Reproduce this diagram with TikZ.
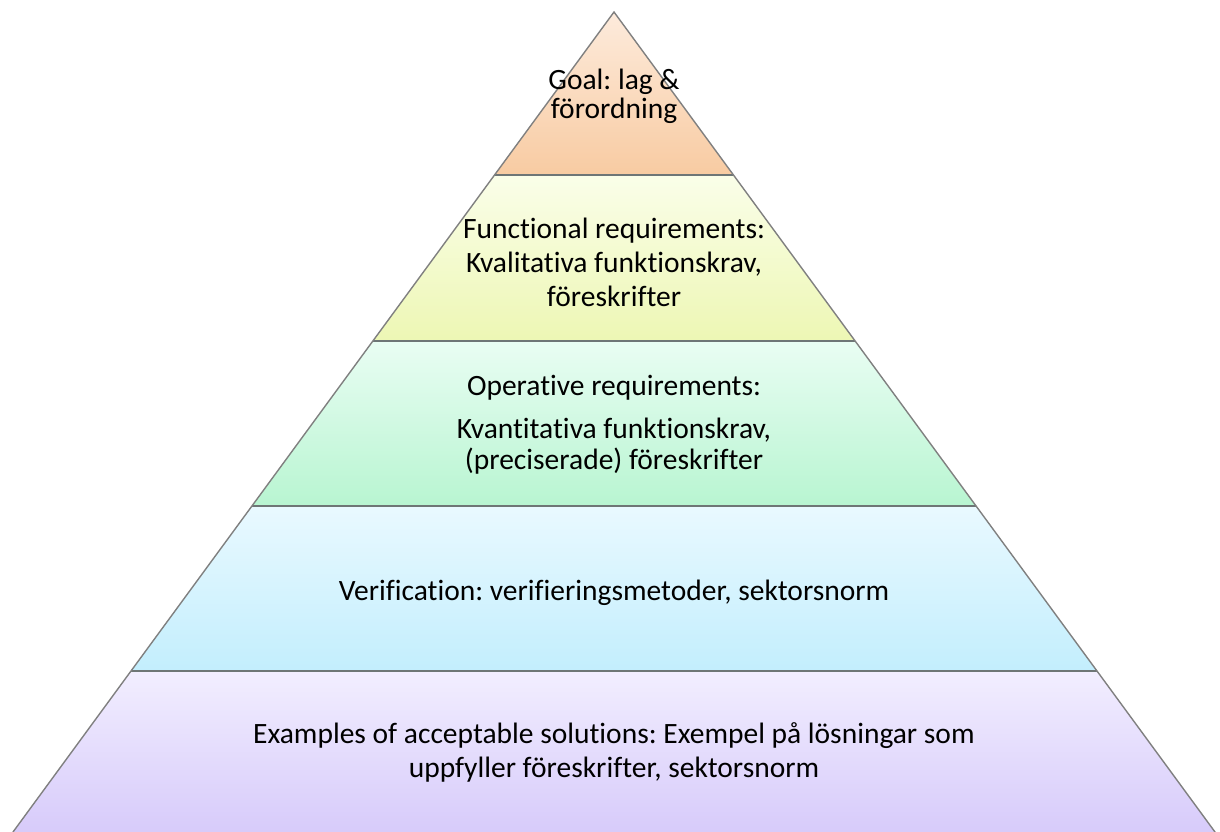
\documentclass[tikz,border=0pt]{standalone}
\usepackage{fontspec}
\setmainfont{Carlito}[Ligatures={NoCommon}]
\frenchspacing
\definecolor{edgegrey}{HTML}{808080}
\definecolor{sepgrey}{HTML}{6E7676}
\definecolor{orangeT}{HTML}{FDEBDC}
\definecolor{orangeB}{HTML}{F8CBA2}
\definecolor{yellowT}{HTML}{FAFEE9}
\definecolor{yellowB}{HTML}{EDF7B4}
\definecolor{greenT}{HTML}{E9FDF3}
\definecolor{greenB}{HTML}{B8F5D1}
\definecolor{blueT}{HTML}{E9F9FF}
\definecolor{blueB}{HTML}{C3EEFD}
\definecolor{purpleT}{HTML}{F2EEFF}
\definecolor{purpleB}{HTML}{D7CBFA}
\begin{document}
\begin{tikzpicture}[x=1pt,y=-1pt,
  edgeline/.style={draw=edgegrey, line width=1.4pt, line cap=round},
  sepline/.style={draw=sepgrey, line width=2pt},
  lbl/.style={font=\fontsize{29.5}{35}\selectfont, text=black, inner sep=0pt, anchor=base}]
\useasboundingbox (0,0) rectangle (1220,832);

% corners of the layer boundaries (left / right)
\coordinate (A)  at (614,12);
\coordinate (L1) at (494.5,175) ; \coordinate (R1) at (733.5,175);
\coordinate (L2) at (373,341)   ; \coordinate (R2) at (855,341);
\coordinate (L3) at (252,506)   ; \coordinate (R3) at (976,506);
\coordinate (L4) at (131,671)   ; \coordinate (R4) at (1097,671);
\coordinate (L5) at (13,832)    ; \coordinate (R5) at (1215,832);

% layer fills
\shade[top color=orangeT, bottom color=orangeB] (A) -- (R1) -- (L1) -- cycle;
\shade[top color=yellowT, bottom color=yellowB] (L1) -- (R1) -- (R2) -- (L2) -- cycle;
\shade[top color=greenT, bottom color=greenB] (L2) -- (R2) -- (R3) -- (L3) -- cycle;
\shade[top color=blueT, bottom color=blueB] (L3) -- (R3) -- (R4) -- (L4) -- cycle;
\shade[top color=purpleT, bottom color=purpleB] (L4) -- (R4) -- (R5) -- (L5) -- cycle;

% separators and outline
\draw[sepline] (L1) -- (R1);
\draw[sepline] (L2) -- (R2);
\draw[sepline] (L3) -- (R3);
\draw[sepline] (L4) -- (R4);
\draw[edgeline] (L5) -- (A) -- (R5);

% labels
\node[lbl] (g1) at (614,90)  {Goal: lag \&};
\node[lbl] (g2) at (614,118) {förordning};
\node[lbl] (f1) at (614,238) {Functional requirements:};
\node[lbl] (f2) at (614,272) {Kvalitativa funktionskrav,};
\node[lbl] (f3) at (614,306) {föreskrifter};
\node[lbl] (o1) at (614,395) {Operative requirements:};
\node[lbl] (o2) at (614,438) {Kvantitativa funktionskrav,};
\node[lbl] (o3) at (614,469) {(preciserade) föreskrifter};
\node[lbl] (v1) at (614,600) {Verification: verifieringsmetoder, sektorsnorm};
\node[lbl] (e1) at (614,743) {Examples of acceptable solutions: Exempel på lösningar som};
\node[lbl] (e2) at (614,777) {uppfyller föreskrifter, sektorsnorm};
\end{tikzpicture}
\end{document}
